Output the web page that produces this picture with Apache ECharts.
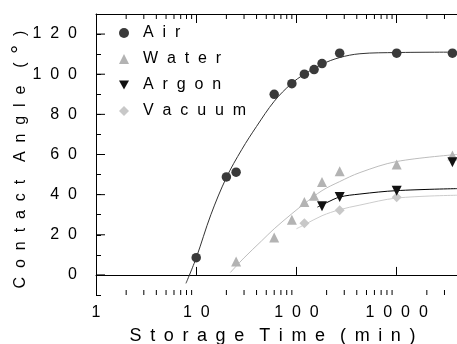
<!DOCTYPE html>
<html>
<head>
<meta charset="utf-8">
<script src="https://cdn.jsdelivr.net/npm/echarts@6/dist/echarts.min.js"></script>
<style>
  html, body { margin: 0; padding: 0; background: #fff; }
  #chart { width: 457px; height: 344px; }
</style>
</head>
<body>
<div id="chart"></div>
<script>
// measured points (storage time in min, contact angle in deg)
const airX = [10, 20, 25, 60, 90, 120, 150, 180, 270, 1000, 3600]
const airY = [8.6, 48.8, 51.2, 90, 95.3, 100, 102.3, 105.3, 110.5, 110.5, 110.5]
const waterX = [25, 60, 90, 120, 150, 180, 270, 1000, 3600]
const waterY = [6.7, 18.7, 27.5, 36.3, 39.5, 46.3, 51.7, 55, 59.5]
const argonX = [180, 270, 1000, 3600]
const argonY = [34.2, 38.8, 42, 56.2]
const vacuumX = [120, 270, 1000, 3600]
const vacuumY = [25.8, 32.2, 38.7, 58]

// fitted curves
const airFitX = [7.9, 10, 14, 20, 28.5, 40, 60, 89, 120, 180, 270, 430, 1000, 4000]
const airFitY = [-4.2, 8.5, 30, 48.5, 62.5, 74, 86.5, 95.3, 100, 105, 108.3, 110.2, 110.8, 111]
const waterFitX = [21.9, 30, 45, 60, 90, 120, 180, 270, 430, 1000, 4000]
const waterFitY = [1.2, 8.5, 17, 23, 30.5, 35.5, 42, 46.5, 51, 56.5, 60]
const argonFitX = [162, 200, 270, 430, 1000, 4000]
const argonFitY = [33.8, 36, 38.8, 40.3, 42, 43]
const vacuumFitX = [100, 120, 180, 270, 430, 1000, 4000]
const vacuumFitY = [23, 25, 29.5, 32.5, 34.8, 38.3, 39.7]

// axis ticks
const xMinorTicks = [2, 3, 4, 5, 6, 7, 8, 9, 20, 30, 40, 50, 60, 70, 80, 90,
  200, 300, 400, 500, 600, 700, 800, 900, 2000, 3000]
const yMajorTicks = [0, 20, 40, 60, 80, 100, 120]

const font = 'Liberation Sans, Arial, sans-serif'
const pairs = (xs, ys) => xs.map((x, i) => [x, ys[i]])
const spaced = (s, gap) => s.split('').join(gap)

let chart = echarts.init(document.getElementById('chart'))

const scatter = (name, xs, ys, symbol, size, color, extra) => Object.assign({
  name: name,
  type: 'scatter',
  symbol: symbol,
  symbolSize: size,
  itemStyle: { color: color, opacity: 1 },
  data: pairs(xs, ys),
  z: 4
}, extra || {})

const fit = (xs, ys, color) => ({
  type: 'line',
  data: pairs(xs, ys),
  showSymbol: false,
  smooth: 0.35,
  lineStyle: { color: color, width: 1 },
  silent: true,
  z: 2
})

const letterGap = ' \u2009'
const xTitle = ['Storage', 'Time', '(min)'].map(w => spaced(w, letterGap)).join('   ')

const option = {
  animation: false,
  backgroundColor: '#fff',
  grid: { left: 96, right: 0, top: 14, bottom: 49, containLabel: false, outerBoundsMode: 'none' },
  legend: {
    orient: 'vertical',
    left: 114,
    top: 20,
    itemWidth: 10,
    itemHeight: 10,
    itemGap: 10,
    data: [
      { name: 'Air' },
      { name: 'Water' },
      { name: 'Argon', icon: 'path://M0,0L10,0L5,9Z' },
      { name: 'Vacuum' }
    ],
    formatter: name => '  ' + spaced(name, '  '),
    textStyle: { fontFamily: font, fontSize: 16, color: '#000' }
  },
  xAxis: [
    {
      type: 'log',
      logBase: 10,
      min: 1,
      max: 4000,
      name: xTitle,
      nameLocation: 'middle',
      nameGap: 32,
      nameMoveOverlap: false,
      nameTextStyle: { fontFamily: font, fontSize: 18, color: '#000', padding: [0, 8, 0, 0] },
      axisLine: { lineStyle: { color: '#000', width: 1 } },
      axisTick: { inside: true, length: 8, lineStyle: { color: '#000' } },
      axisLabel: {
        margin: 10,
        fontFamily: font,
        fontSize: 16,
        color: '#000',
        showMaxLabel: false,
        formatter: v => {
          const l = Math.log10(v)
          return Math.abs(l - Math.round(l)) < 1e-6 ? spaced(String(Math.round(v)), '  ') : ''
        }
      },
      splitLine: { show: false }
    },
    {
      type: 'log',
      logBase: 10,
      min: 1,
      max: 4000,
      position: 'top',
      axisLine: { lineStyle: { color: '#000', width: 1 } },
      axisTick: { inside: true, length: 9, lineStyle: { color: '#000' } },
      axisLabel: { show: false },
      splitLine: { show: false }
    }
  ],
  yAxis: {
    type: 'value',
    min: -10,
    max: 130,
    interval: 10,
    name: '{t|C  o  n  t  a  c  t    A  n  g  l  e    (  }{d|°}{t|  )}',
    nameLocation: 'middle',
    nameGap: 64,
    nameRotate: 90,
    nameMoveOverlap: false,
    nameTextStyle: {
      fontFamily: font,
      fontSize: 16,
      color: '#000',
      padding: [0, 10, 0, 0],
      rich: {
        t: { fontFamily: font, fontSize: 16, color: '#000' },
        d: { fontFamily: font, fontSize: 22, color: '#000' }
      }
    },
    axisLine: { show: true, lineStyle: { color: '#000', width: 1 } },
    axisTick: { inside: true, length: 5, lineStyle: { color: '#000' } },
    axisLabel: {
      margin: 19,
      fontFamily: font,
      fontSize: 16,
      color: '#000',
      formatter: v => (v % 20 === 0 && v >= 0 && v <= 120) ? spaced(String(v), '  ') : ''
    },
    splitLine: { show: false }
  },
  series: [
    fit(airFitX, airFitY, '#333333'),
    fit(waterFitX, waterFitY, '#bdbdbd'),
    fit(argonFitX, argonFitY, '#000000'),
    fit(vacuumFitX, vacuumFitY, '#cccccc'),
    scatter('Vacuum', vacuumX, vacuumY, 'diamond', 10, '#c8c8c8', { z: 3 }),
    scatter('Air', airX, airY, 'circle', 9.5, '#3a3a3a'),
    scatter('Water', waterX, waterY, 'triangle', 10, '#b3b3b3'),
    scatter('Argon', argonX, argonY, 'triangle', 10, '#111111', { symbolRotate: 180 }),
    {
      // minor ticks of the log axis, bottom and top
      type: 'custom',
      silent: true,
      clip: false,
      z: 5,
      data: xMinorTicks.map(v => [v, 0]),
      renderItem: (params, api) => {
        const cs = params.coordSys
        const x = api.coord([api.value(0), 0])[0]
        const b = cs.y + cs.height
        return {
          type: 'group',
          children: [
            { type: 'line', shape: { x1: x, y1: b, x2: x, y2: b - 5 }, style: { stroke: '#000', lineWidth: 1 } },
            { type: 'line', shape: { x1: x, y1: cs.y, x2: x, y2: cs.y + 5 }, style: { stroke: '#000', lineWidth: 1 } }
          ]
        }
      }
    },
    {
      // longer major ticks on the value axis
      type: 'custom',
      silent: true,
      clip: false,
      z: 5,
      data: yMajorTicks.map(v => [1, v]),
      renderItem: (params, api) => {
        const cs = params.coordSys
        const y = api.coord([1, api.value(1)])[1]
        return { type: 'line', shape: { x1: cs.x, y1: y, x2: cs.x + 9, y2: y }, style: { stroke: '#000', lineWidth: 1 } }
      }
    }
  ]
}

chart.setOption(option)
</script>
</body>
</html>
